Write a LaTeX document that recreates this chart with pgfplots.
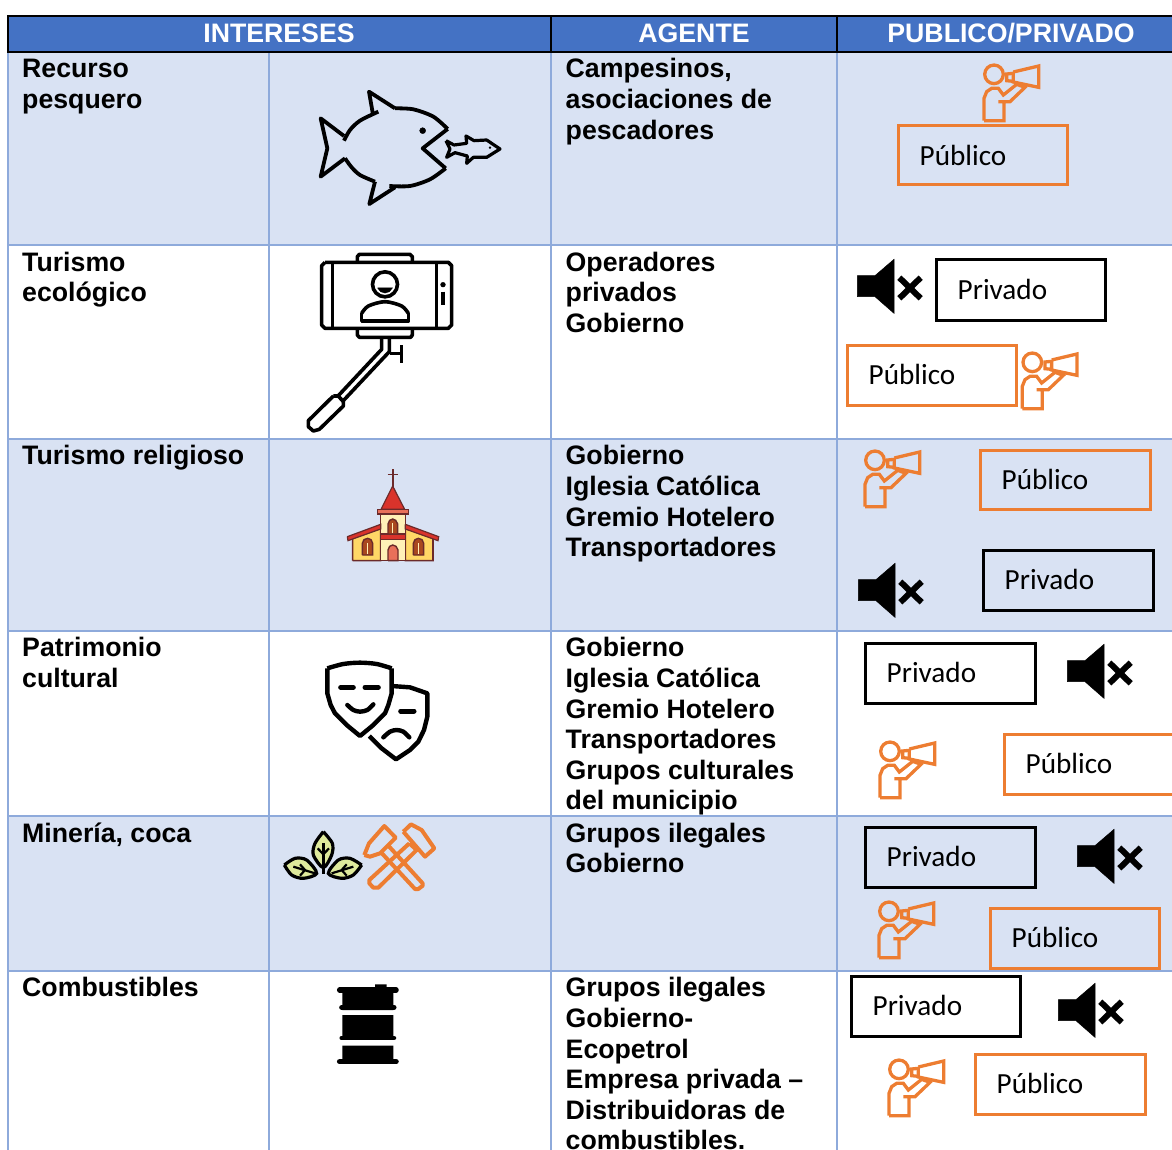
\documentclass[border=0pt]{standalone}
\usepackage{pgfplots}
\pgfplotsset{compat=1.18}
\usepackage{fontspec}
\setmainfont{Liberation Sans}
\newfontfamily\carl{Carlito}
\definecolor{hdr}{HTML}{4472C4}
\definecolor{rowb}{HTML}{D9E2F3}
\definecolor{rule}{HTML}{8EAADB}
\definecolor{org}{HTML}{ED7D31}
\definecolor{chd}{HTML}{6B2A2A}
\definecolor{chr}{HTML}{D9332B}
\definecolor{chy}{HTML}{FFD766}
\definecolor{chc}{HTML}{FFF0B8}
\definecolor{chb}{HTML}{A9481F}
\definecolor{chp}{HTML}{E8705A}
\definecolor{leaf}{HTML}{DFEA9C}
\pgfplotsset{Z/.style 2 args={x filter/.expression={#1+x/3},y filter/.expression={#2+y/3}}}
\newcommand{\bt}[3]{\node[anchor=base west,inner sep=0pt,text=black] at (axis cs:#1,#2) {\fontsize{26.7}{30}\selectfont\bfseries #3};}
\newcommand{\hd}[2]{\node[anchor=base,inner sep=0pt,text=white] at (axis cs:#1,42.5) {\fontsize{26.7}{30}\selectfont\bfseries #2};}
\newcommand{\rul}[4]{\addplot[draw=rule,line width=2pt,line cap=rect] coordinates {(#1,#2)(#3,#4)};}
\newcommand{\blk}[4]{\addplot[draw=black,line width=2.5pt,line cap=rect] coordinates {(#1,#2)(#3,#4)};}
\newcommand{\fillrow}[2]{\addplot[fill=rowb,draw=none] coordinates {(8,#1)(1172,#1)(1172,#2)(8,#2)(8,#1)};}
\newcommand{\tbox}[6]{%
\addplot[draw=#5,line width=3pt] coordinates {(#1,#2)(#3,#2)(#3,#4)(#1,#4)(#1,#2)(#3,#2)};
\node[anchor=base west,inner sep=0pt,text=black] at (axis cs:#1+21.5,#2+39.6) {\carl\fontsize{29.2}{32}\selectfont #6};}
\newcommand{\mega}[2]{%
\addplot[Z={#1}{#2},only marks,mark=o,mark size=9.3pt,mark options={draw=org,line width=3.3pt}] coordinates {(462,73)};
\addplot[Z={#1}{#2},draw=org,line width=3.3pt] coordinates {(520,66)(596,48)(596,112)(520,96)(520,66)};
\addplot[Z={#1}{#2},draw=org,line width=3.3pt] coordinates {(520,70)(500,72)(500,92)(520,94)};
\addplot[Z={#1}{#2},draw=org,line width=3.3pt] coordinates {(432,212)(432,145)(440,125)(455,115)(475,115)(490,135)(530,103)(555,112)(510,155)(475,155)(492,155)(492,212)(432,212)};}
\newcommand{\mute}[2]{%
\addplot[Z={#1}{#2},fill=black,draw=black,line width=0.5pt] coordinates {(52,677)(105,677)(162,628)(162,790)(105,740)(52,740)(52,677)};
\addplot[Z={#1}{#2},draw=black,line width=6pt] coordinates {(178,683)(242,745)};
\addplot[Z={#1}{#2},draw=black,line width=6pt] coordinates {(178,745)(242,683)};}
\newcommand{\zp}[3]{\addplot[Z={#1},draw=black,line width=#2,line join=round] coordinates {#3};}
\begin{document}
\begin{tikzpicture}
\useasboundingbox (0,0) rectangle (1172pt,1150pt);
\begin{axis}[at={(0,0)},anchor=south west,scale only axis,width=1172pt,height=1150pt,
  xmin=0,xmax=1172,ymin=0,ymax=1150,y dir=reverse,hide axis,clip=true]
% header and row fills
\addplot[fill=hdr,draw=none] coordinates {(8,16)(1172,16)(1172,52)(8,52)(8,16)};
\fillrow{52}{245}
\fillrow{439}{631}
\fillrow{816}{971}
% body rules
\rul{8}{245}{1172}{245}
\rul{8}{439}{1172}{439}
\rul{8}{631}{1172}{631}
\rul{8}{816}{1172}{816}
\rul{8}{971}{1172}{971}
\rul{8}{52}{8}{1150}
\rul{269}{52}{269}{1150}
\rul{551}{52}{551}{1150}
\rul{837}{52}{837}{1150}
% header rules
\blk{8}{16}{1172}{16}
\blk{8}{52}{1172}{52}
\blk{8}{16}{8}{52}
\blk{551}{16}{551}{52}
\blk{837}{16}{837}{52}
\hd{279}{INTERESES}
\hd{694}{AGENTE}
\hd{1011}{PUBLICO/PRIVADO}
% first column
\bt{22}{77.5}{Recurso}
\bt{22}{108.5}{pesquero}
\bt{22}{271.5}{Turismo}
\bt{22}{301.5}{ecológico}
\bt{22}{464.5}{Turismo religioso}
\bt{22}{656.5}{Patrimonio}
\bt{22}{687.5}{cultural}
\bt{22}{842.5}{Minería, coca}
\bt{22}{996.5}{Combustibles}
% agents
\bt{565.5}{77.5}{Campesinos,}
\bt{565.5}{108.5}{asociaciones de}
\bt{565.5}{139.5}{pescadores}
\bt{565.5}{271.5}{Operadores}
\bt{565.5}{301.5}{privados}
\bt{565.5}{332.5}{Gobierno}
\bt{565.5}{464.5}{Gobierno}
\bt{565.5}{495.5}{Iglesia Católica}
\bt{565.5}{526.5}{Gremio Hotelero}
\bt{565.5}{556.5}{Transportadores}
\bt{565.5}{656.5}{Gobierno}
\bt{565.5}{687.5}{Iglesia Católica}
\bt{565.5}{718.5}{Gremio Hotelero}
\bt{565.5}{748.5}{Transportadores}
\bt{565.5}{779.5}{Grupos culturales}
\bt{565.5}{809.5}{del municipio}
\bt{565.5}{842.5}{Grupos ilegales}
\bt{565.5}{872.5}{Gobierno}
\bt{565.5}{996.5}{Grupos ilegales}
\bt{565.5}{1027.5}{Gobierno-}
\bt{565.5}{1058.5}{Ecopetrol}
\bt{565.5}{1088.5}{Empresa privada –}
\bt{565.5}{1119.5}{Distribuidoras de}
\bt{565.5}{1149.5}{combustibles.}
% boxes
\tbox{898}{126}{1067}{185}{org}{Público}
\tbox{936}{260}{1105}{320}{black}{Privado}
\tbox{847}{345}{1016}{405}{org}{Público}
\tbox{980}{450}{1150}{509}{org}{Público}
\tbox{983}{550}{1153}{610}{black}{Privado}
\tbox{865}{643}{1035}{703}{black}{Privado}
\tbox{1004}{734}{1176}{794}{org}{Público}
\tbox{865}{827}{1035}{887}{black}{Privado}
\tbox{990}{908}{1159}{968}{org}{Público}
\tbox{851}{976}{1020}{1036}{black}{Privado}
\tbox{975}{1054}{1145}{1114}{org}{Público}
% megaphones and mute speakers
\mega{840}{50}
\mega{878.3}{338}
\mega{721}{436}
\mega{736}{727}
\mega{735}{887}
\mega{745}{1045}
\mute{840}{50}
\mute{841}{354}
\mute{1050}{435}
\mute{1060}{620}
\mute{1041}{774}
% big fish
\addplot[Z={270}{50},smooth,draw=black,line width=3.8pt] coordinates {(222,272)(240,240)(270,212)(325,185)};
\zp{{270}{50}}{3.8pt}{(308,188)(297,125)(375,175)}
\addplot[Z={270}{50},smooth,draw=black,line width=3.8pt] coordinates {(375,175)(430,178)(490,200)(533,237)};
\zp{{270}{50}}{3.8pt}{(533,237)(458,295)(527,355)}
\addplot[Z={270}{50},smooth,draw=black,line width=3.8pt] coordinates {(527,355)(480,388)(420,408)(358,408)};
\zp{{270}{50}}{3.8pt}{(375,412)(298,462)(315,395)}
\addplot[Z={270}{50},smooth,draw=black,line width=3.8pt] coordinates {(315,395)(270,375)(245,352)(225,325)};
\zp{{270}{50}}{3.8pt}{(225,325)(152,380)(172,295)(152,205)(222,258)}
\addplot[Z={270}{50},only marks,mark=*,mark size=3pt,mark options={draw=black,fill=black}] coordinates {(458,242)};
\zp{{270}{50}}{3.2pt}{(528,272)(552,285)(590,280)(588,258)(612,272)(650,270)(690,297)(650,322)(610,322)(590,340)(592,318)(555,308)(530,322)(540,297)(528,272)}
\addplot[Z={270}{50},only marks,mark=*,mark size=1pt,mark options={draw=black,fill=black}] coordinates {(660,293)};
% selfie stick
\zp{{280}{250}}{3.6pt}{(135,37)(505,37)(515,47)(515,225)(505,235)(135,235)(125,225)(125,47)(135,37)}
\zp{{280}{250}}{3.6pt}{(157,37)(157,235)}
\zp{{280}{250}}{3.6pt}{(470,37)(470,235)}
\zp{{280}{250}}{3.6pt}{(232,37)(232,20)(238,13)(390,13)(397,20)(397,37)}
\zp{{280}{250}}{3.6pt}{(232,237)(232,255)(238,262)(392,262)(397,255)(397,237)}
\addplot[Z={280}{250},only marks,mark=o,mark size=12.5pt,mark options={draw=black,line width=3.6pt}] coordinates {(315,103)};
\addplot[Z={280}{250},fill=black,draw=black,line width=.5pt] coordinates {(293,114)(337,114)(328,125)(315,129)(302,125)(293,114)};
\addplot[Z={280}{250},smooth,draw=black,line width=3.6pt] coordinates {(245,190)(265,168)(315,155)(365,168)(385,190)};
\zp{{280}{250}}{3.6pt}{(385,190)(385,213)(245,213)(245,190)}
\zp{{280}{250}}{3.6pt}{(305,262)(305,298)(175,437)}
\zp{{280}{250}}{3.6pt}{(328,262)(328,305)(190,452)}
\zp{{280}{250}}{3.6pt}{(330,310)(365,310)}
\zp{{280}{250}}{3.6pt}{(365,285)(365,338)}
\zp{{280}{250}}{3.6pt}{(160,438)(175,438)(190,455)(190,468)(118,538)(100,543)(85,530)(85,512)(160,438)}
\addplot[Z={280}{250},only marks,mark=*,mark size=2.4pt,mark options={draw=black,fill=black}] coordinates {(489,104)};
\zp{{280}{250}}{3.6pt}{(489,125)(489,165)}
% church
\addplot[Z={330}{460},fill=chy,draw=chd,line width=1.6pt] coordinates {(68,302)(68,235)(152,205)(152,302)(68,302)};
\addplot[Z={330}{460},fill=chy,draw=chd,line width=1.6pt] coordinates {(226,205)(309,235)(309,302)(226,302)(226,205)};
\addplot[Z={330}{460},fill=chc,draw=chd,line width=1.6pt] coordinates {(152,162)(226,162)(226,302)(152,302)(152,162)};
\addplot[Z={330}{460},fill=chr,draw=chd,line width=1.2pt] coordinates {(152,222)(226,222)(226,238)(152,238)(152,222)};
\addplot[Z={330}{460},fill=chr,draw=chd,line width=1.2pt] coordinates {(52,230)(152,193)(152,207)(54,242)(52,230)};
\addplot[Z={330}{460},fill=chr,draw=chd,line width=1.2pt] coordinates {(226,193)(326,230)(324,242)(226,207)(226,193)};
\addplot[Z={330}{460},draw=chd,line width=2pt] coordinates {(188,28)(188,80)};
\addplot[Z={330}{460},draw=chd,line width=1.6pt] coordinates {(173,44)(204,44)};
\addplot[Z={330}{460},fill=chr,draw=chd,line width=1.2pt] coordinates {(188,78)(224,148)(153,148)(188,78)};
\addplot[Z={330}{460},fill=chp,draw=chd,line width=1.4pt] coordinates {(143,148)(235,148)(235,162)(143,162)(143,148)};
\addplot[Z={330}{460},fill=chb,draw=chd,line width=1.4pt] coordinates {(174,222)(174,192)(179,181)(188,177)(197,181)(203,192)(203,222)(174,222)};
\addplot[Z={330}{460},fill=chp,draw=chd,line width=1.4pt] coordinates {(174,302)(174,270)(179,259)(188,255)(198,259)(204,270)(204,302)(174,302)};
\addplot[Z={330}{460},fill=chb,draw=chd,line width=1.4pt] coordinates {(97,285)(97,250)(102,239)(113,235)(123,239)(128,250)(128,285)(97,285)};
\addplot[Z={330}{460},fill=chb,draw=chd,line width=1.4pt] coordinates {(250,285)(250,250)(255,239)(265,235)(276,239)(281,250)(281,285)(250,285)};
\addplot[Z={330}{460},draw=chc,line width=.8pt] coordinates {(188,190)(188,220)};
\addplot[Z={330}{460},draw=chc,line width=.8pt] coordinates {(112,250)(112,283)};
\addplot[Z={330}{460},draw=chc,line width=.8pt] coordinates {(265,250)(265,283)};
% masks
\addplot[Z={310}{650},smooth,draw=black,line width=4.4pt] coordinates {(52,55)(100,42)(150,38)(200,42)(245,55)};
\addplot[Z={310}{650},draw=black,line width=4.4pt,line join=round] coordinates {(245,55)(245,130)(235,165)(225,190)(190,225)(150,258)(110,225)(75,190)(62,165)(52,130)(52,55)};
\addplot[Z={310}{650},draw=black,line width=5pt,line cap=round] coordinates {(92,112)(130,112)};
\addplot[Z={310}{650},draw=black,line width=5pt,line cap=round] coordinates {(165,112)(205,112)};
\addplot[Z={310}{650},smooth,draw=black,line width=4.4pt,line cap=round] coordinates {(112,165)(130,180)(150,185)(172,180)(190,163)};
\addplot[Z={310}{650},draw=black,line width=4.4pt,line join=round] coordinates {(245,108)(300,112)(352,130)(352,200)(342,240)(325,275)(300,300)(258,328)(215,295)(178,258)};
\addplot[Z={310}{650},draw=black,line width=5pt,line cap=round] coordinates {(272,183)(312,183)};
\addplot[Z={310}{650},smooth,draw=black,line width=4.4pt,line cap=round] coordinates {(220,262)(240,245)(260,240)(280,245)(298,262)};
% plant
\addplot[Z={275}{815},smooth,fill=leaf,draw=black,line width=3.2pt] coordinates {(145,50)(120,85)(115,120)(145,158)(170,120)(172,85)(145,50)};
\addplot[Z={275}{815},smooth,fill=leaf,draw=black,line width=3.2pt] coordinates {(28,150)(60,130)(95,135)(125,175)(85,190)(50,180)(28,150)};
\addplot[Z={275}{815},smooth,fill=leaf,draw=black,line width=3.2pt] coordinates {(260,150)(225,130)(190,135)(160,175)(200,190)(235,180)(260,150)};
\zp{{275}{815}}{2.8pt}{(145,85)(145,178)}
\zp{{275}{815}}{2.2pt}{(128,100)(145,118)(162,100)}
\zp{{275}{815}}{2.2pt}{(55,155)(120,175)}
\zp{{275}{815}}{2.2pt}{(75,148)(90,165)(75,182)}
\zp{{275}{815}}{2.2pt}{(235,155)(170,175)}
\zp{{275}{815}}{2.2pt}{(215,148)(200,165)(215,182)}
% hammers
\addplot[Z={275}{815},draw=org,line width=4pt,line join=round] coordinates {(268,120)(282,85)(328,33)(362,68)(315,115)(285,125)(268,120)};
\addplot[Z={275}{815},draw=org,line width=4pt,line join=round] coordinates {(340,92)(443,205)(443,212)(430,222)(420,222)(318,112)};
\addplot[Z={275}{815},draw=org,line width=4pt,line join=round] coordinates {(385,50)(408,28)(440,45)(478,100)(450,125)(385,50)};
\addplot[Z={275}{815},draw=org,line width=4pt,line join=round] coordinates {(403,85)(425,105)(310,218)(295,218)(283,205)(283,195)(403,85)};
% barrel
\addplot[Z={325}{975},fill=black,draw=none] coordinates {(150,28)(185,28)(185,40)(150,40)(150,28)};
\addplot[Z={325}{975},fill=black,draw=none] coordinates {(52,45)(205,45)(205,105)(52,105)(52,45)};
\addplot[Z={325}{975},fill=black,draw=none] coordinates {(52,120)(205,120)(205,190)(52,190)(52,120)};
\addplot[Z={325}{975},fill=black,draw=none] coordinates {(52,212)(205,212)(205,258)(52,258)(52,212)};
\addplot[Z={325}{975},draw=black,line width=5.5pt,line cap=round] coordinates {(44,45)(213,45)};
\addplot[Z={325}{975},draw=black,line width=5pt,line cap=round] coordinates {(50,97)(207,97)};
\addplot[Z={325}{975},draw=black,line width=4.5pt,line cap=round] coordinates {(50,189)(207,189)};
\addplot[Z={325}{975},draw=black,line width=5.5pt,line cap=round] coordinates {(44,260)(213,260)};
\end{axis}
\end{tikzpicture}
\end{document}
